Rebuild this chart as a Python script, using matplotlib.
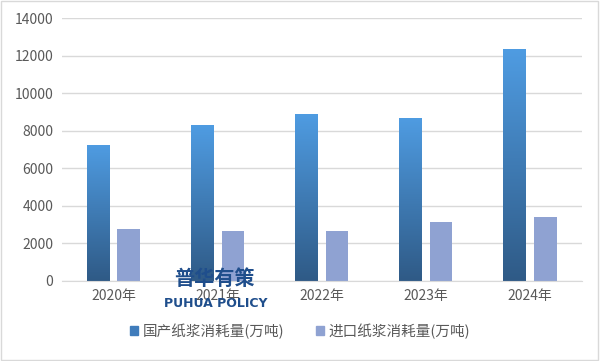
import numpy as np
import matplotlib
matplotlib.use('Agg')
import matplotlib.pyplot as plt
from matplotlib.colors import LinearSegmentedColormap
from matplotlib.patches import Rectangle

plt.rcParams['font.family'] = ['Noto Sans CJK SC', 'DejaVu Sans']

# --- Data ---
years = ['2020年', '2021年', '2022年', '2023年', '2024年']
domestic = [7250, 8300, 8900, 8700, 12350]
imported = [2780, 2680, 2680, 3160, 3420]
label_dom = '国产纸浆消耗量(万吨)'
label_imp = '进口纸浆消耗量(万吨)'

fig = plt.figure(figsize=(6, 3.61), dpi=100)
ax = fig.add_axes([0.103, 0.222, 0.867, 0.728])

x = np.arange(len(years))
w = 0.22
off = 0.145

grad = LinearSegmentedColormap.from_list('g', ['#2f5a86', '#4f9ce2'])
g = np.linspace(0, 1, 256).reshape(-1, 1)

bars = ax.bar(x - off, domestic, w, color='none', edgecolor='none', zorder=2)
for b in bars:
    x0, y0 = b.get_x(), b.get_y()
    bw, bh = b.get_width(), b.get_height()
    im = ax.imshow(g, cmap=grad, origin='lower', aspect='auto',
                   extent=[x0, x0 + bw, y0, y0 + bh], zorder=2)
    clip = Rectangle((x0, y0), bw, bh, transform=ax.transData)
    im.set_clip_path(clip)
ax.bar(x + off, imported, w, color='#8fa2d2', zorder=2)

ax.set_xlim(-0.5, len(years) - 0.5)
ax.set_ylim(0, 14000)
ax.set_yticks(range(0, 14001, 2000))
ax.set_xticks(x)
ax.set_xticklabels(years)
ax.grid(axis='y', color='#d9d9d9', linewidth=1, zorder=0)
ax.set_axisbelow(True)
for s in ['top', 'right', 'left']:
    ax.spines[s].set_visible(False)
ax.spines['bottom'].set_color('#d9d9d9')
ax.tick_params(axis='both', length=0, labelsize=10, colors='#595959', pad=6)

# legend
hd = Rectangle((0, 0), 1, 1, color='#3f7cbb')
hi = Rectangle((0, 0), 1, 1, color='#8fa2d2')
leg = fig.legend([hd, hi], [label_dom, label_imp], loc='center',
                 bbox_to_anchor=(0.5, 0.083), ncol=2, frameon=False,
                 fontsize=10.5, handlelength=0.55, handleheight=0.55,
                 handletextpad=0.3, columnspacing=2.2)
for t in leg.get_texts():
    t.set_color('#595959')

# watermark logo
fig.text(0.357, 0.228, '普华有策', fontsize=14.5, fontweight='bold',
         color='#1f4e8c', ha='center', va='center')
fig.text(0.36, 0.158, 'PUHUA POLICY', fontsize=9, fontweight='bold',
         color='#1f4e8c', ha='center', va='center', family='DejaVu Sans')

# outer border
fig.patches.append(Rectangle((0.002, 0.003), 0.995, 0.994, transform=fig.transFigure,
                             fill=False, edgecolor='#d9d9d9', linewidth=1))

fig.savefig('out.png', dpi=100)
